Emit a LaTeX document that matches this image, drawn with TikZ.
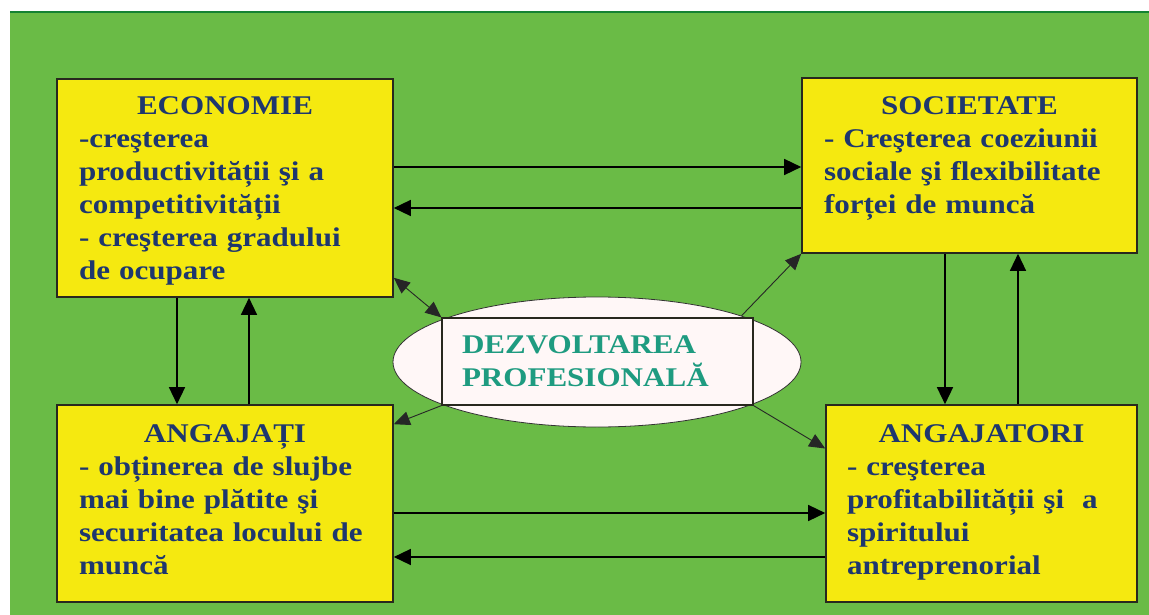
\documentclass[tikz,border=0pt]{standalone}
\usepackage{fontspec}
\setmainfont{Liberation Serif}[FakeStretch=1.15]
\usetikzlibrary{arrows.meta,positioning,shapes.geometric}
\usepackage{xcolor}
\definecolor{bggreen}{RGB}{106,187,70}
\definecolor{edgegreen}{RGB}{20,130,50}
\definecolor{boxyellow}{RGB}{245,233,16}
\definecolor{boxline}{RGB}{40,40,30}
\definecolor{navy}{RGB}{30,55,110}
\definecolor{teal}{RGB}{30,155,128}
\setlength{\parindent}{0pt}

\begin{document}
\begin{tikzpicture}[
    x=1pt, y=-1pt,
    font=\fontsize{27}{33}\selectfont\bfseries,
    box/.style={
      draw=boxline, line width=1.6pt, fill=boxyellow, inner sep=0pt
    },
    txt/.style={
      text=navy, align=left, inner sep=0pt
    },
    arr/.style={
      line width=1.4pt, -{Triangle[length=17pt,width=16pt]}
    },
    diag/.style={
      line width=0.9pt, draw=black!85, -{Triangle[length=16pt,width=14pt]}
    }
  ]
    % background
    \useasboundingbox (0,0) rectangle (1149,615);
    \fill[white] (0,0) rectangle (1149,615);
    \fill[bggreen] (10,12) rectangle (1149,615);
    \draw[edgegreen, line width=1.5pt] (10,12) -- (1149,12);

    % the four boxes
    \node[box, minimum width=336, minimum height=218] (eco) at (225,188) {};
    \node[box, minimum width=335, minimum height=175] (soc) at (969.5,165.5) {};
    \node[box, minimum width=336, minimum height=197] (ang) at (225,503.5) {};
    \node[box, minimum width=311, minimum height=197] (angr) at (981.5,503.5) {};

    \node[txt, text width=292, below=18pt of eco.north] (ecotxt) {%
      {\centering ECONOMIE\par}
      -creşterea\\
      productivității şi a\\
      competitivității\\
      - creşterea gradului\\
      de ocupare};
    \node[txt, text width=291, below=19pt of soc.north] (soctxt) {%
      {\centering SOCIETATE\par}
      - Creşterea coeziunii\\
      sociale şi flexibilitate\\
      forței de muncă};
    \node[txt, text width=292, below=20pt of ang.north] (angtxt) {%
      {\centering ANGAJAȚI\par}
      - obținerea de slujbe\\
      mai bine plătite şi\\
      securitatea locului de\\
      muncă};
    \node[txt, text width=269, below=20pt of angr.north] (angrtxt) {%
      {\centering ANGAJATORI\par}
      - creşterea\\
      profitabilității şi \ a\\
      spiritului\\
      antreprenorial};

    % centre
    \node[ellipse, draw=black!80, line width=0.8pt, fill=white!97!red,
      minimum width=408, minimum height=130, inner sep=0pt] (dev) at (597,362) {};
    \node[draw=boxline, line width=1.2pt, fill=white!97!red, text=teal,
      minimum width=311, minimum height=87, text width=271, align=left,
      inner sep=0pt] (devbox) at (597.5,361.5) {DEZVOLTAREA\\PROFESIONALĂ};

    % horizontal links
    \draw[arr] ([yshift=21pt]eco.east) -- ([yshift=21pt]eco.east -| soc.west);
    \draw[arr] ([yshift=-20pt]eco.east -| soc.west) -- ([yshift=-20pt]eco.east);
    \draw[arr] ([yshift=-9.5pt]ang.east) -- ([yshift=-9.5pt]angr.west);
    \draw[arr] ([yshift=-53.5pt]angr.west) -- ([yshift=-53.5pt]ang.east);

    % vertical links
    \draw[arr] ([xshift=-48pt]eco.south) -- ([xshift=-48pt]ang.north);
    \draw[arr] ([xshift=24pt]ang.north) -- ([xshift=24pt]eco.south);
    \draw[arr] ([xshift=-24.5pt]soc.south) -- ([xshift=-36.5pt]angr.north);
    \draw[arr] ([xshift=36.5pt]angr.north) -- ([xshift=48.5pt]soc.south);

    % links to the centre
    \draw[diag, {Triangle[length=16pt,width=14pt]}-{Triangle[length=16pt,width=14pt]}]
      ([yshift=20pt]eco.south east) -- (devbox.north west);
    \draw[diag] (dev.north east) -- (soc.south west);
    \draw[diag] (devbox.south west) -- ([yshift=-20pt]ang.north east);
    \draw[diag] (devbox.south east) -- ([yshift=55pt]angr.west);
\end{tikzpicture}
\end{document}
